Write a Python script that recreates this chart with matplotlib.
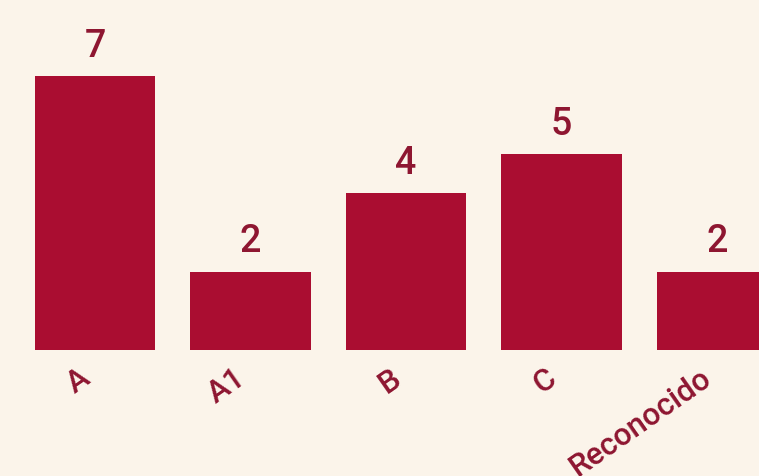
import matplotlib
matplotlib.use("Agg")
import matplotlib.pyplot as plt
from matplotlib.transforms import ScaledTranslation

categories = ["A", "A1", "B", "C", "Reconocido"]
values = [7, 2, 4, 5, 2]

BG = "#FBF4EA"
BAR = "#AA0D31"
TXT = "#8E1631"

plt.rcParams['font.family'] = ['Roboto', 'DejaVu Sans']

fig = plt.figure(figsize=(7.59, 4.77), dpi=100, facecolor=BG)
ax = fig.add_axes([0, 1 - 351/477, 1, 351/477])
ax.set_facecolor(BG)
x = list(range(len(categories)))
ax.bar(x, values, width=0.772, color=BAR)
ax.set_xlim(-95/155.5, (759-95)/155.5)
ax.set_ylim(0, 351/39.14)
for xi, v in zip(x, values):
    ax.annotate(str(v), (xi, v), xytext=(0, 9), textcoords="offset points",
                ha="center", va="bottom", fontsize=27, color=TXT, fontweight="medium")
ax.set_xticks(x)
ax.set_xticklabels(categories, rotation=35, ha="right", rotation_mode="anchor",
                   fontsize=22.5, color=TXT, fontweight="medium")
ax.tick_params(axis="x", length=0, pad=9)
offset = ScaledTranslation(-12/72, 0, fig.dpi_scale_trans)
for lab in ax.get_xticklabels():
    lab.set_transform(lab.get_transform() + offset)
ax.tick_params(axis="y", left=False, labelleft=False)
for s in ax.spines.values():
    s.set_visible(False)
fig.savefig("out.png", dpi=100, facecolor=BG)
